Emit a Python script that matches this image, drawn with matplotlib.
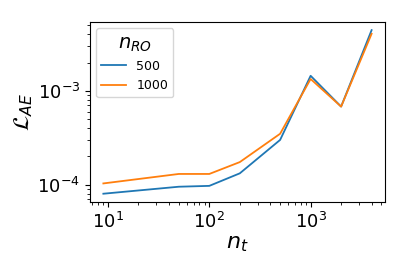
import numpy as np
import matplotlib
matplotlib.use("Agg")
import matplotlib.pyplot as plt

# values
n_t = [9, 50, 100, 200, 500, 1000, 2000, 4000]
loss_500 = [8.0e-5, 9.5e-5, 9.7e-5, 1.32e-4, 3.0e-4, 1.45e-3, 6.8e-4, 4.45e-3]
loss_1000 = [1.03e-4, 1.3e-4, 1.3e-4, 1.74e-4, 3.49e-4, 1.34e-3, 6.8e-4, 4.07e-3]
labels = ["500", "1000"]

fig = plt.figure(figsize=(4.07, 2.71), dpi=100)
ax = fig.add_axes([0.221, 0.255, 0.725, 0.664])

ax.plot(n_t, loss_500, color="tab:blue", lw=1.3, label=labels[0])
ax.plot(n_t, loss_1000, color="tab:orange", lw=1.3, label=labels[1])
ax.set_xscale("log")
ax.set_yscale("log")

ax.set_xlabel(r"$n_t$", fontsize=16, labelpad=2)
ax.set_ylabel(r"$\mathcal{L}_{AE}$", fontsize=16, labelpad=2)
ax.tick_params(axis="both", which="major", labelsize=13)

leg = ax.legend(title=r"$n_{RO}$", loc="upper left", fontsize=9, title_fontsize=14)

fig.savefig("out.png", dpi=100)
